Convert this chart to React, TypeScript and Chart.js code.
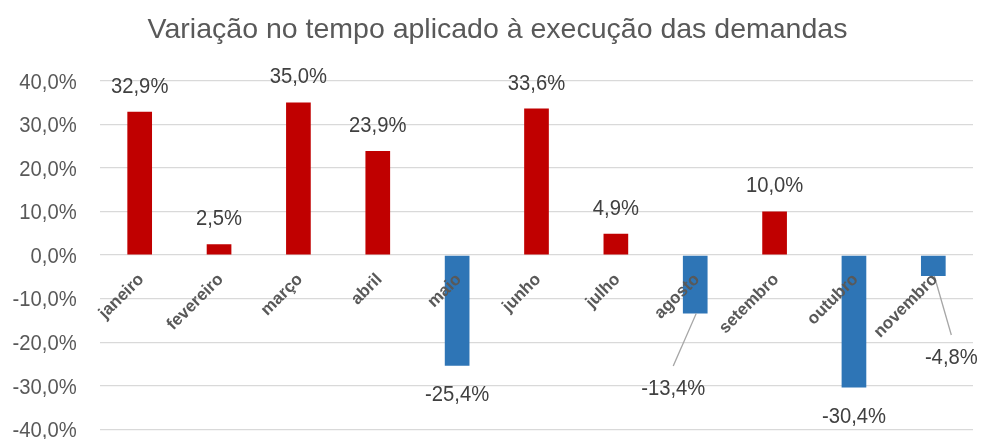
import React, { useEffect, useRef } from 'react';
import { Chart, registerables } from 'chart.js';

Chart.register(...registerables);

const TITLE = 'Variação no tempo aplicado à execução das demandas';
const MONTHS = ['janeiro', 'fevereiro', 'março', 'abril', 'maio', 'junho', 'julho', 'agosto', 'setembro', 'outubro', 'novembro'];
const VARIATION = [32.9, 2.5, 35.0, 23.9, -25.4, 33.6, 4.9, -13.4, 10.0, -30.4, -4.8];
const Y_MIN = -40;
const Y_MAX = 40;
const Y_STEP = 10;

const POS_COLOR = '#C00000';
const NEG_COLOR = '#2E75B6';
const AXIS_TEXT = '#595959';
const LABEL_TEXT = '#404040';
const FONT = "'Liberation Sans', Arial, sans-serif";
const SX = 0.92; // horizontal text compression for numbers

// data labels moved away from their bars (with leader lines): index -> offset in px
const LABEL_SHIFT: Record<number, { dx: number; dy: number }> = {
  7: { dx: -22, dy: 46 },
  10: { dx: 18, dy: 52.5 },
};

function fmt(v: number): string {
  return v.toFixed(1).replace('.', ',') + '%';
}

function drawText(
  ctx: CanvasRenderingContext2D,
  text: string,
  x: number,
  y: number,
  size: number,
  color: string,
  align: CanvasTextAlign,
  weight = 'normal',
  sx = SX
) {
  ctx.save();
  ctx.font = `${weight} ${size}px ${FONT}`;
  ctx.fillStyle = color;
  ctx.textBaseline = 'alphabetic';
  ctx.textAlign = align;
  ctx.translate(x, y);
  ctx.scale(sx, 1);
  ctx.fillText(text, 0, 0);
  ctx.restore();
}

const textPlugin = {
  id: 'excelText',
  afterDraw(chart: any) {
    const ctx: CanvasRenderingContext2D = chart.ctx;
    const yS = chart.scales.y;
    const xS = chart.scales.x;
    const area = chart.chartArea;

    // title
    drawText(ctx, TITLE, 497.5, 38.3, 28.5, AXIS_TEXT, 'center', 'normal', 1);

    // y tick labels
    yS.ticks.forEach((t: any) => {
      const y = yS.getPixelForValue(t.value);
      drawText(ctx, fmt(t.value), area.left - 23.3, y + 7.8, 22, AXIS_TEXT, 'right');
    });

    // data labels
    const meta = chart.getDatasetMeta(0);
    meta.data.forEach((el: any, i: number) => {
      const v = VARIATION[i];
      let x = el.x;
      let base = v >= 0 ? el.y - 19 : el.y + 35.5;
      const shift = LABEL_SHIFT[i];
      if (shift) {
        x += shift.dx;
        base += shift.dy;
        ctx.save();
        ctx.strokeStyle = '#A6A6A6';
        ctx.lineWidth = 1.3;
        ctx.beginPath();
        ctx.moveTo(el.x + 1, el.y);
        ctx.lineTo(x, base - 15.5 - 13.5);
        ctx.stroke();
        ctx.restore();
      }
      drawText(ctx, fmt(v), x, base, 22, LABEL_TEXT, 'center');
    });

    // category labels (rotated, at the zero line)
    const zeroY = yS.getPixelForValue(0);
    MONTHS.forEach((m, i) => {
      const cx = xS.getPixelForValue(i);
      ctx.save();
      ctx.translate(cx + 5, zeroY + 25);
      ctx.rotate(-Math.PI / 4);
      ctx.font = `bold 17px ${FONT}`;
      ctx.fillStyle = AXIS_TEXT;
      ctx.textAlign = 'right';
      ctx.textBaseline = 'alphabetic';
      ctx.fillText(m, 0, 0);
      ctx.restore();
    });
  },
};

export default function App() {
  const ref = useRef<HTMLCanvasElement | null>(null);

  useEffect(() => {
    if (!ref.current) return;
    const chart = new Chart(ref.current, {
      type: 'bar',
      data: {
        labels: MONTHS,
        datasets: [
          {
            data: VARIATION,
            backgroundColor: (c: any) => (VARIATION[c.dataIndex] >= 0 ? POS_COLOR : NEG_COLOR),
            borderWidth: 0,
            categoryPercentage: 0.311,
            barPercentage: 1,
          },
        ],
      },
      options: {
        responsive: false,
        animation: false,
        layout: { padding: { left: 100, right: 8, top: 80.7, bottom: 9.6 } },
        plugins: {
          legend: { display: false },
          title: { display: false },
          tooltip: { enabled: false },
        },
        scales: {
          x: { display: false },
          y: {
            min: Y_MIN,
            max: Y_MAX,
            ticks: { stepSize: Y_STEP, display: false },
            grid: { color: '#D9D9D9', lineWidth: 1.3, drawTicks: false },
            border: { display: false },
          },
        },
      },
      plugins: [textPlugin],
    } as any);
    return () => chart.destroy();
  }, []);

  return (
    <div style={{ position: 'fixed', left: 0, top: 0, width: 981, height: 439, background: '#fff' }}>
      <canvas ref={ref} width={981} height={439} style={{ display: 'block' }} />
    </div>
  );
}
